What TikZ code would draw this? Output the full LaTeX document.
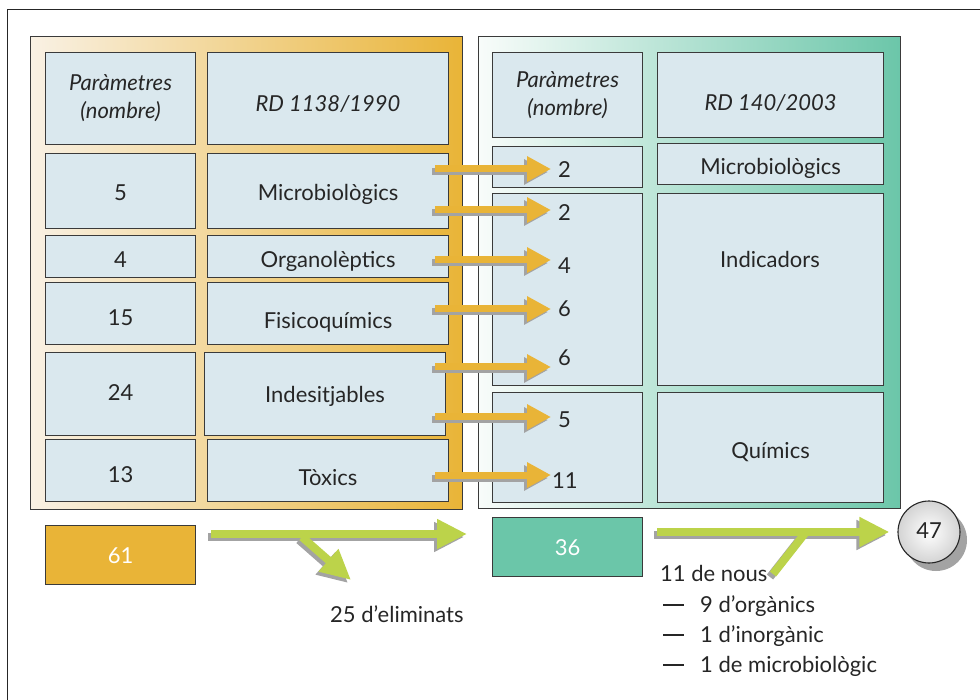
\documentclass[tikz,border=0pt]{standalone}
\usepackage{fontspec}
\setmainfont{Lato}
\usetikzlibrary{arrows.meta,shadows}

\definecolor{gold}{HTML}{E9B437}
\definecolor{cream}{HTML}{F9F1E4}
\definecolor{seagreen}{HTML}{6BC6A9}
\definecolor{mint}{HTML}{F8FCFA}
\definecolor{cellblue}{HTML}{DAE8EE}
\definecolor{lime}{HTML}{BCD34A}
\definecolor{ashgray}{HTML}{A3A3A3}
\definecolor{edge}{HTML}{3A3A3A}

\newcommand\bodyfont{\fontsize{22}{28}\selectfont}
\newcommand\listdash{\rule[6.5pt]{21pt}{1.3pt}\hspace{16pt}}

\begin{document}
\begin{tikzpicture}[x=1pt,y=-1pt,
  font=\bodyfont,
  panel/.style={draw=edge, line width=1.3pt, anchor=north west, inner sep=0pt},
  cell/.style={draw=edge, fill=cellblue, line width=1.1pt, anchor=north west, inner sep=0pt,
    text=black!85, text depth=0pt, text height=20pt},
  head/.style={cell, font=\bodyfont\itshape, align=center},
  total/.style={cell, fill=#1, text=white, text height=17pt},
  num/.style={anchor=west, inner sep=0pt, inner xsep=7pt, text=black!85},
  goldflow/.style={line width=7pt, -{Triangle[length=24pt,width=24pt]}},
  limeflow/.style={line width=8pt, -{Triangle[length=30pt,width=28pt]}},
  words/.style={anchor=base west, inner sep=0pt, text=black!85}]

\clip (0,0) rectangle (980,700);
\fill[white] (0,0) rectangle (980,700);
\draw[black!85, line width=1pt] (7,10) rectangle (1000,720);

% old rules, RD 1138/1990
\node[panel, left color=cream, right color=gold, minimum width=432pt, minimum height=473pt] (oldpanel) at (30,36) {};
\node[head, minimum width=150pt, minimum height=92pt, text height=, text depth=] (parL) at (45,52) {Paràmetres\\(nombre)};
\node[head, minimum width=241pt, minimum height=92pt, text height=25pt] (rdL) at (207,52) {RD 1138/1990};
\node[cell, minimum width=150pt, minimum height=75pt, text height=19pt] (c5) at (45,153) {5};
\node[cell, minimum width=241pt, minimum height=75pt, text height=19pt] (micL) at (207,153) {Microbiològics};
\node[cell, minimum width=150pt, minimum height=42pt, text height=22pt] (c4) at (45,235) {4};
\node[cell, minimum width=241pt, minimum height=42pt, text height=22pt] (org) at (207,235) {Organolèptics};
\node[cell, minimum width=150pt, minimum height=62pt, text height=24pt] (c15) at (45,282) {15};
\node[cell, minimum width=241pt, minimum height=62pt, text height=29pt] (fis) at (207,282) {Fisicoquímics};
\node[cell, minimum width=150pt, minimum height=83pt, text height=12pt] (c24) at (45,352) {24};
\node[cell, minimum width=241pt, minimum height=83pt, text height=17pt] (ind) at (204,352) {Indesitjables};
\node[cell, minimum width=150pt, minimum height=62pt, text height=24pt] (c13) at (45,439) {13};
\node[cell, minimum width=241pt, minimum height=62pt, text height=30pt] (tox) at (207,439) {Tòxics};

% new rules, RD 140/2003
\node[panel, left color=mint, right color=seagreen, minimum width=422pt, minimum height=472pt] (newpanel) at (478,36) {};
\node[head, minimum width=150pt, minimum height=85pt, text height=, text depth=] (parR) at (492,52) {Paràmetres\\(nombre)};
\node[head, minimum width=226pt, minimum height=85pt, text height=30pt] (rdR) at (657,52) {RD 140/2003};
\node[cell, minimum width=150pt, minimum height=41pt] (b1) at (492,146) {};
\node[cell, minimum width=226pt, minimum height=41pt, text height=21pt] (micR) at (657,143) {Microbiològics};
\node[cell, minimum width=150pt, minimum height=192pt] (b2) at (492,193) {};
\node[cell, minimum width=226pt, minimum height=192pt] (indR) at (657,193) {};
\node[anchor=base, text=black!85] (indT) at (770,268) {Indicadors};
\node[cell, minimum width=150pt, minimum height=110pt] (b3) at (492,392) {};
\node[cell, minimum width=226pt, minimum height=110pt, text height=22pt] (quiR) at (657,392) {Químics};

% counts carried over
\foreach \i/\y in {1/169,2/210,3/260,4/309,5/367,6/417,7/475}
  \coordinate (s\i) at (435,\y);
\foreach \i/\y/\t in {1/170/2,2/213/2,3/266/4,4/309/6,5/358/6,6/420/5}
  \node[num] (n\i) at (551,\y) {\t};
\node[num, inner xsep=1pt] (n7) at (551,481) {11};

% totals
\node[total=gold, minimum width=150pt, minimum height=59pt] (sum61) at (45,525) {61};
\node[total=seagreen, minimum width=150pt, minimum height=59pt] (sum36) at (492,517) {36};
\node[circle, draw=black!85, line width=1.1pt, inner color=white, outer color=black!17,
  minimum size=62pt, inner sep=0pt, text=black!85, text depth=0pt, text height=13pt,
  drop shadow={shadow xshift=7pt, shadow yshift=-8pt, fill=ashgray, opacity=1}] (tot) at (929,532) {47};

\coordinate (g1) at (211,534);
\coordinate (fork1) at (302,537);
\coordinate (out1) at (351,580);
\coordinate (g2) at (657,532);
\coordinate (fork2) at (806,532);
\coordinate (in2) at (773,574);

% shadows first
\begin{scope}[transform canvas={shift={(-3pt,-3pt)}}]
  \foreach \i in {1,...,7}
    \draw[goldflow, ashgray] (s\i) -- (s\i -| n\i.west);
  \draw[limeflow, ashgray] (fork1) -- (out1);
  \draw[limeflow, ashgray, shorten >=11pt] (g1) -- (g1 -| newpanel.west);
  \draw[line width=8pt, ashgray] (fork2) -- (in2);
  \draw[limeflow, ashgray, shorten >=8pt] (g2) -- (tot.west);
\end{scope}

\foreach \i in {1,...,7}
  \draw[goldflow, gold] (s\i) -- (s\i -| n\i.west);
\draw[limeflow, lime] (fork1) -- (out1);
\draw[limeflow, lime, shorten >=11pt] (g1) -- (g1 -| newpanel.west);
\draw[line width=8pt, lime] (fork2) -- (in2);
\draw[limeflow, lime, shorten >=8pt] (g2) -- (tot.west);

\node[words] (elim) at (330,622) {25 d’eliminats};
\node[words] (nous) at (660,581) {11 de nous};
\node[words] (org9) at (663,612) {\listdash 9 d’orgànics};
\node[words] (inorg1) at (663,642) {\listdash 1 d’inorgànic};
\node[words] (micro1) at (663,672) {\listdash 1 de microbiològic};

\end{tikzpicture}
\end{document}
